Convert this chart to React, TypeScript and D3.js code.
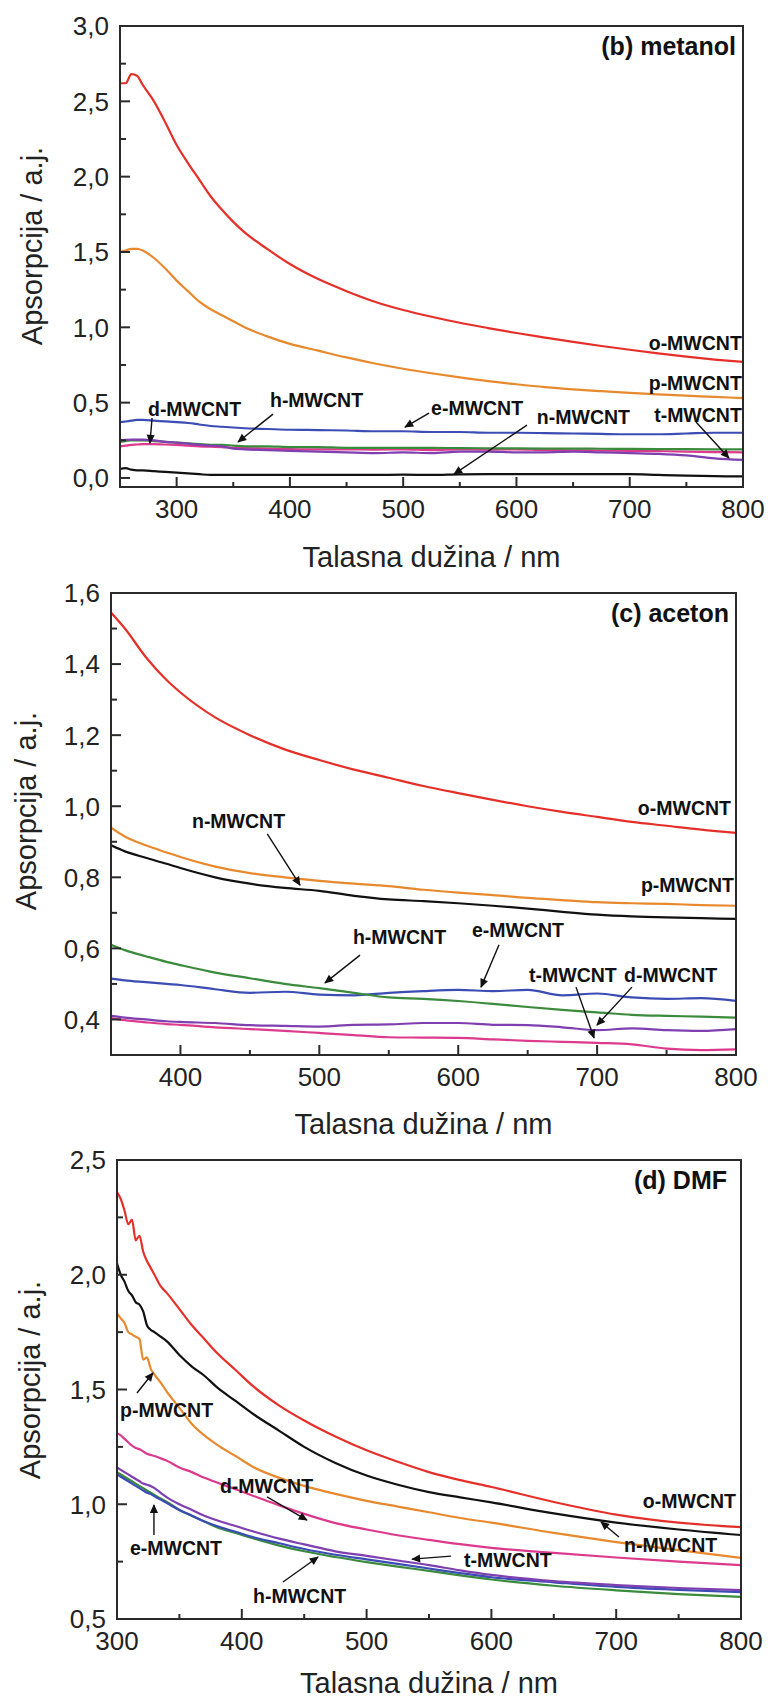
import React from 'react';
import * as d3 from 'd3';

const FONT = '"Liberation Sans", Arial, Helvetica, sans-serif';

// ---------------- data: (b) metanol ----------------
const bWave = [250, 255, 260, 265, 270, 280, 290, 300, 310, 320, 330, 340, 350, 360, 380, 400, 425, 450, 475, 500, 525, 550, 575, 600, 625, 650, 675, 700, 725, 750, 775, 800];
const bO = [2.62, 2.62, 2.68, 2.67, 2.61, 2.50, 2.36, 2.21, 2.09, 1.98, 1.87, 1.78, 1.70, 1.63, 1.52, 1.42, 1.32, 1.24, 1.17, 1.115, 1.07, 1.03, 0.995, 0.962, 0.932, 0.903, 0.876, 0.851, 0.827, 0.805, 0.786, 0.77];
const bP = [1.50, 1.51, 1.52, 1.52, 1.51, 1.46, 1.39, 1.31, 1.24, 1.17, 1.12, 1.08, 1.04, 1.00, 0.94, 0.89, 0.845, 0.80, 0.76, 0.725, 0.695, 0.668, 0.643, 0.622, 0.603, 0.588, 0.576, 0.565, 0.555, 0.546, 0.538, 0.53];
const bN = [0.06, 0.065, 0.055, 0.05, 0.05, 0.045, 0.04, 0.035, 0.03, 0.025, 0.02, 0.02, 0.02, 0.02, 0.02, 0.02, 0.02, 0.02, 0.02, 0.022, 0.02, 0.024, 0.025, 0.025, 0.026, 0.025, 0.025, 0.025, 0.02, 0.015, 0.012, 0.01];
const bE = [0.37, 0.375, 0.38, 0.385, 0.385, 0.38, 0.375, 0.37, 0.365, 0.355, 0.345, 0.34, 0.335, 0.33, 0.325, 0.32, 0.318, 0.315, 0.31, 0.31, 0.305, 0.305, 0.30, 0.30, 0.298, 0.295, 0.292, 0.29, 0.29, 0.295, 0.30, 0.30];
const bH = [0.24, 0.245, 0.25, 0.25, 0.25, 0.245, 0.24, 0.235, 0.23, 0.225, 0.22, 0.22, 0.215, 0.21, 0.21, 0.205, 0.205, 0.20, 0.20, 0.20, 0.20, 0.198, 0.197, 0.196, 0.195, 0.195, 0.194, 0.193, 0.192, 0.191, 0.19, 0.19];
const bD = [0.21, 0.215, 0.22, 0.222, 0.225, 0.225, 0.222, 0.22, 0.215, 0.21, 0.207, 0.205, 0.20, 0.198, 0.195, 0.192, 0.19, 0.19, 0.188, 0.19, 0.185, 0.19, 0.188, 0.19, 0.185, 0.184, 0.182, 0.18, 0.178, 0.175, 0.172, 0.17];
const bT = [0.25, 0.253, 0.255, 0.255, 0.255, 0.25, 0.24, 0.235, 0.228, 0.22, 0.215, 0.21, 0.195, 0.19, 0.185, 0.18, 0.175, 0.17, 0.165, 0.17, 0.165, 0.175, 0.175, 0.17, 0.17, 0.175, 0.17, 0.165, 0.16, 0.15, 0.13, 0.12];

// ---------------- data: (c) aceton ----------------
const cWave = [350, 360, 375, 390, 400, 425, 450, 475, 500, 525, 550, 575, 600, 625, 650, 675, 700, 725, 750, 775, 800];
const cO = [1.545, 1.50, 1.42, 1.355, 1.32, 1.25, 1.20, 1.16, 1.13, 1.103, 1.08, 1.057, 1.037, 1.018, 1.0, 0.984, 0.97, 0.956, 0.945, 0.934, 0.925];
const cP = [0.94, 0.915, 0.89, 0.87, 0.857, 0.83, 0.812, 0.80, 0.79, 0.782, 0.775, 0.765, 0.757, 0.75, 0.742, 0.736, 0.73, 0.727, 0.725, 0.722, 0.72];
const cN = [0.89, 0.873, 0.855, 0.838, 0.826, 0.80, 0.782, 0.77, 0.762, 0.748, 0.738, 0.733, 0.727, 0.72, 0.712, 0.703, 0.695, 0.69, 0.687, 0.685, 0.683];
const cE = [0.515, 0.51, 0.505, 0.50, 0.497, 0.485, 0.475, 0.478, 0.47, 0.468, 0.475, 0.48, 0.483, 0.48, 0.483, 0.468, 0.473, 0.462, 0.458, 0.46, 0.452];
const cH = [0.61, 0.595, 0.578, 0.562, 0.553, 0.532, 0.516, 0.50, 0.488, 0.475, 0.462, 0.458, 0.452, 0.444, 0.435, 0.427, 0.42, 0.413, 0.41, 0.408, 0.405];
const cT = [0.41, 0.405, 0.40, 0.395, 0.393, 0.39, 0.384, 0.382, 0.38, 0.385, 0.386, 0.39, 0.39, 0.385, 0.384, 0.378, 0.37, 0.375, 0.37, 0.368, 0.373];
const cD = [0.404, 0.398, 0.392, 0.387, 0.385, 0.378, 0.373, 0.368, 0.362, 0.356, 0.35, 0.349, 0.348, 0.344, 0.34, 0.337, 0.334, 0.33, 0.318, 0.314, 0.316];

// ---------------- data: (d) DMF ----------------
const dWave = [300, 303, 306, 309, 312, 315, 318, 321, 324, 327, 330, 335, 340, 350, 360, 370, 380, 395, 410, 430, 450, 475, 500, 525, 550, 575, 600, 650, 700, 750, 800];
const dO = [2.36, 2.33, 2.28, 2.22, 2.24, 2.15, 2.17, 2.10, 2.06, 2.03, 2.00, 1.95, 1.92, 1.85, 1.78, 1.72, 1.66, 1.585, 1.51, 1.43, 1.365, 1.295, 1.235, 1.185, 1.14, 1.105, 1.075, 1.01, 0.955, 0.92, 0.90];
const dN = [2.05, 2.00, 1.97, 1.93, 1.91, 1.88, 1.87, 1.84, 1.78, 1.76, 1.75, 1.73, 1.71, 1.65, 1.60, 1.56, 1.51, 1.45, 1.39, 1.32, 1.25, 1.18, 1.125, 1.085, 1.053, 1.03, 1.008, 0.96, 0.92, 0.89, 0.866];
const dP = [1.83, 1.81, 1.79, 1.75, 1.74, 1.73, 1.72, 1.63, 1.64, 1.59, 1.565, 1.53, 1.49, 1.42, 1.35, 1.30, 1.26, 1.21, 1.16, 1.115, 1.08, 1.045, 1.015, 0.99, 0.965, 0.94, 0.92, 0.875, 0.835, 0.80, 0.766];
const dD = [1.31, 1.30, 1.285, 1.27, 1.255, 1.245, 1.24, 1.23, 1.22, 1.215, 1.21, 1.20, 1.19, 1.16, 1.14, 1.115, 1.095, 1.065, 1.035, 0.995, 0.958, 0.918, 0.89, 0.865, 0.845, 0.826, 0.81, 0.788, 0.768, 0.75, 0.735];
const dT = [1.16, 1.15, 1.14, 1.13, 1.12, 1.11, 1.10, 1.09, 1.085, 1.08, 1.07, 1.05, 1.03, 1.00, 0.975, 0.95, 0.93, 0.905, 0.88, 0.85, 0.825, 0.795, 0.775, 0.755, 0.735, 0.712, 0.692, 0.665, 0.648, 0.635, 0.626];
const dE = [1.13, 1.12, 1.11, 1.10, 1.09, 1.08, 1.07, 1.06, 1.05, 1.045, 1.035, 1.02, 1.005, 0.975, 0.95, 0.925, 0.905, 0.88, 0.855, 0.83, 0.805, 0.78, 0.76, 0.74, 0.72, 0.70, 0.682, 0.66, 0.64, 0.627, 0.617];
const dH = [1.14, 1.13, 1.12, 1.11, 1.10, 1.09, 1.08, 1.07, 1.06, 1.05, 1.04, 1.025, 1.01, 0.975, 0.95, 0.925, 0.90, 0.875, 0.85, 0.82, 0.795, 0.77, 0.748, 0.728, 0.71, 0.69, 0.672, 0.645, 0.625, 0.608, 0.596];

// ---------------- tick values ----------------
const bXTicks = [300, 400, 500, 600, 700, 800];
const bXMinor = [350, 450, 550, 650, 750];
const bYTicks = [0, 0.5, 1.0, 1.5, 2.0, 2.5, 3.0];
const bYMinor = [0.25, 0.75, 1.25, 1.75, 2.25, 2.75];
const cXTicks = [400, 500, 600, 700, 800];
const cXMinor = [450, 550, 650, 750];
const cYTicks = [0.4, 0.6, 0.8, 1.0, 1.2, 1.4, 1.6];
const cYMinor = [0.5, 0.7, 0.9, 1.1, 1.3, 1.5];
const dXTicks = [300, 400, 500, 600, 700, 800];
const dXMinor = [350, 450, 550, 650, 750];
const dYTicks = [0.5, 1.0, 1.5, 2.0, 2.5];
const dYMinor = [0.75, 1.25, 1.75, 2.25];

// ---------------- annotations (data coordinates) ----------------
const bLabels = [
  { text: 'o-MWCNT', x: 799, y: 0.849, anchor: 'end' },
  { text: 'p-MWCNT', x: 799, y: 0.584, anchor: 'end' },
  { text: 't-MWCNT', x: 799, y: 0.371, anchor: 'end' },
  { text: 'n-MWCNT', x: 618, y: 0.358, anchor: 'start' },
  { text: 'e-MWCNT', x: 524.6, y: 0.418, anchor: 'start' },
  { text: 'h-MWCNT', x: 382.4, y: 0.471, anchor: 'start' },
  { text: 'd-MWCNT', x: 274.7, y: 0.411, anchor: 'start' },
];
const bArrows = [
  { x1: 278.3, y1: 0.398, x2: 276.5, y2: 0.232 },
  { x1: 385.1, y1: 0.424, x2: 354.2, y2: 0.239 },
  { x1: 522.8, y1: 0.431, x2: 501.6, y2: 0.338 },
  { x1: 609.3, y1: 0.351, x2: 544.9, y2: 0.026 },
  { x1: 758.5, y1: 0.371, x2: 787.6, y2: 0.132 },
];
const cLabels = [
  { text: 'o-MWCNT', x: 796.4, y: 0.975, anchor: 'end' },
  { text: 'p-MWCNT', x: 798.6, y: 0.759, anchor: 'end' },
  { text: 'n-MWCNT', x: 408.3, y: 0.939, anchor: 'start' },
  { text: 'h-MWCNT', x: 524.2, y: 0.612, anchor: 'start' },
  { text: 'e-MWCNT', x: 609.9, y: 0.632, anchor: 'start' },
  { text: 't-MWCNT', x: 651, y: 0.505, anchor: 'start' },
  { text: 'd-MWCNT', x: 719.4, y: 0.505, anchor: 'start' },
];
const cArrows = [
  { x1: 462.5, y1: 0.922, x2: 486.1, y2: 0.778 },
  { x1: 529.3, y1: 0.581, x2: 504.1, y2: 0.503 },
  { x1: 629.4, y1: 0.610, x2: 616.4, y2: 0.491 },
  { x1: 684.8, y1: 0.491, x2: 697.8, y2: 0.348 },
  { x1: 725.1, y1: 0.491, x2: 699.9, y2: 0.384 },
];
const dLabels = [
  { text: 'o-MWCNT', x: 796, y: 0.984, anchor: 'end' },
  { text: 'n-MWCNT', x: 706.3, y: 0.792, anchor: 'start' },
  { text: 't-MWCNT', x: 578, y: 0.727, anchor: 'start' },
  { text: 'd-MWCNT', x: 382.5, y: 1.049, anchor: 'start' },
  { text: 'e-MWCNT', x: 310.4, y: 0.779, anchor: 'start' },
  { text: 'h-MWCNT', x: 409, y: 0.570, anchor: 'start' },
  { text: 'p-MWCNT', x: 302.4, y: 1.380, anchor: 'start' },
];
const dArrows = [
  { x1: 702.2, y1: 0.857, x2: 687.8, y2: 0.923 },
  { x1: 567.6, y1: 0.774, x2: 536.4, y2: 0.761 },
  { x1: 420.2, y1: 1.032, x2: 452.2, y2: 0.931 },
  { x1: 329.6, y1: 0.866, x2: 329.6, y2: 0.997 },
  { x1: 433, y1: 0.661, x2: 461.1, y2: 0.770 },
  { x1: 316, y1: 1.485, x2: 328.8, y2: 1.572 },
];

const COLORS: Record<string, string> = {
  o: '#e5302a',
  p: '#e8892e',
  n: '#111111',
  e: '#3b4db5',
  h: '#3b8b3d',
  d: '#dd3a8e',
  t: '#7f3fb0',
};

type Panel = {
  key: string;
  title: string;
  left: number; right: number; top: number; bottom: number;
  xDomain: [number, number]; yDomain: [number, number];
  xTicks: number[]; xMinor: number[]; yTicks: number[]; yMinor: number[];
  wave: number[];
  series: { k: string; v: number[] }[];
  labels: { text: string; x: number; y: number; anchor: string }[];
  arrows: { x1: number; y1: number; x2: number; y2: number }[];
  yTitleX: number; yTitleY: number; xTitleY: number;
  titleDx: number;
};

const panels: Panel[] = [
  {
    key: 'b', title: '(b) metanol',
    left: 120, right: 743, top: 26, bottom: 487,
    xDomain: [250, 800], yDomain: [-0.06, 3.0],
    xTicks: bXTicks, xMinor: bXMinor, yTicks: bYTicks, yMinor: bYMinor,
    wave: bWave,
    series: [
      { k: 'n', v: bN }, { k: 'd', v: bD }, { k: 'h', v: bH }, { k: 't', v: bT },
      { k: 'e', v: bE }, { k: 'p', v: bP }, { k: 'o', v: bO },
    ],
    labels: bLabels, arrows: bArrows,
    yTitleX: 42, yTitleY: 246, xTitleY: 567, titleDx: 7,
  },
  {
    key: 'c', title: '(c) aceton',
    left: 111, right: 736, top: 593, bottom: 1055,
    xDomain: [350, 800], yDomain: [0.3, 1.6],
    xTicks: cXTicks, xMinor: cXMinor, yTicks: cYTicks, yMinor: cYMinor,
    wave: cWave,
    series: [
      { k: 'd', v: cD }, { k: 't', v: cT }, { k: 'e', v: cE }, { k: 'h', v: cH },
      { k: 'n', v: cN }, { k: 'p', v: cP }, { k: 'o', v: cO },
    ],
    labels: cLabels, arrows: cArrows,
    yTitleX: 36, yTitleY: 811, xTitleY: 1134, titleDx: 7,
  },
  {
    key: 'd', title: '(d) DMF',
    left: 117, right: 741, top: 1160, bottom: 1619,
    xDomain: [300, 800], yDomain: [0.5, 2.5],
    xTicks: dXTicks, xMinor: dXMinor, yTicks: dYTicks, yMinor: dYMinor,
    wave: dWave,
    series: [
      { k: 'h', v: dH }, { k: 'e', v: dE }, { k: 't', v: dT }, { k: 'd', v: dD },
      { k: 'p', v: dP }, { k: 'n', v: dN }, { k: 'o', v: dO },
    ],
    labels: dLabels, arrows: dArrows,
    yTitleX: 40, yTitleY: 1380, xTitleY: 1693, titleDx: 14,
  },
];

const fmt = (v: number) => d3.format('.1f')(v).replace('.', ',');

function PanelView({ p }: { p: Panel }) {
  const x = d3.scaleLinear().domain(p.xDomain).range([p.left, p.right]);
  const y = d3.scaleLinear().domain(p.yDomain).range([p.bottom, p.top]);
  const line = d3
    .line<number>()
    .x((_, i) => x(p.wave[i]))
    .y((d) => y(d))
    .curve(d3.curveMonotoneX);
  const axisColor = '#2a2a2a';
  const clipId = `clip-${p.key}`;
  return (
    <g>
      <defs>
        <clipPath id={clipId}>
          <rect x={p.left} y={p.top} width={p.right - p.left} height={p.bottom - p.top} />
        </clipPath>
      </defs>
      <g clipPath={`url(#${clipId})`}>
        {p.series.map((s) => (
          <path key={s.k} d={line(s.v) || ''} fill="none" stroke={COLORS[s.k]} strokeWidth={2.2} strokeLinejoin="round" />
        ))}
      </g>
      <rect x={p.left} y={p.top} width={p.right - p.left} height={p.bottom - p.top} fill="none" stroke={axisColor} strokeWidth={2} />
      {p.xTicks.map((t) => (
        <g key={`xt${t}`}>
          <line x1={x(t)} x2={x(t)} y1={p.bottom} y2={p.bottom - 10} stroke={axisColor} strokeWidth={2} />
          <text x={x(t)} y={p.bottom + 31} textAnchor="middle" fontSize={26} fontFamily={FONT} fill="#222">{t}</text>
        </g>
      ))}
      {p.xMinor.map((t) => (
        <line key={`xm${t}`} x1={x(t)} x2={x(t)} y1={p.bottom} y2={p.bottom - 5} stroke={axisColor} strokeWidth={2} />
      ))}
      {p.yTicks.map((t) => (
        <g key={`yt${t}`}>
          <line x1={p.left} x2={p.left + 10} y1={y(t)} y2={y(t)} stroke={axisColor} strokeWidth={2} />
          <text x={p.left - 11} y={y(t)} dy="0.36em" textAnchor="end" fontSize={26} fontFamily={FONT} fill="#222">{fmt(t)}</text>
        </g>
      ))}
      {p.yMinor.map((t) => (
        <line key={`ym${t}`} x1={p.left} x2={p.left + 6} y1={y(t)} y2={y(t)} stroke={axisColor} strokeWidth={2} />
      ))}
      <text x={p.right - p.titleDx} y={p.top + 29} textAnchor="end" fontSize={25} fontWeight="bold" fontFamily={FONT} fill="#111">{p.title}</text>
      {p.labels.map((l) => (
        <text key={l.text} x={x(l.x)} y={y(l.y)} textAnchor={l.anchor as any} fontSize={19.5} fontWeight="bold" fontFamily={FONT} fill="#111">{l.text}</text>
      ))}
      {p.arrows.map((a, i) => (
        <line key={`ar${i}`} x1={x(a.x1)} y1={y(a.y1)} x2={x(a.x2)} y2={y(a.y2)} stroke="#111" strokeWidth={1.4} markerEnd="url(#arrowHead)" />
      ))}
      <text x={(p.left + p.right) / 2} y={p.xTitleY} textAnchor="middle" fontSize={29} fontFamily={FONT} fill="#222">Talasna dužina / nm</text>
      <text transform={`translate(${p.yTitleX},${p.yTitleY}) rotate(-90)`} textAnchor="middle" fontSize={29} fontFamily={FONT} fill="#222">Apsorpcija / a.j.</text>
    </g>
  );
}

export default function App() {
  return (
    <svg
      width={768}
      height={1702}
      viewBox="0 0 768 1702"
      style={{ position: 'absolute', left: 0, top: 0, background: '#fff', display: 'block' }}
    >
      <defs>
        <marker id="arrowHead" viewBox="0 0 10 10" refX={9} refY={5} markerWidth={11} markerHeight={9} markerUnits="userSpaceOnUse" orient="auto">
          <path d="M0,0.5 L10,5 L0,9.5 z" fill="#111" />
        </marker>
      </defs>
      <rect x={0} y={0} width={768} height={1702} fill="#fff" />
      {panels.map((p) => (
        <PanelView key={p.key} p={p} />
      ))}
    </svg>
  );
}
